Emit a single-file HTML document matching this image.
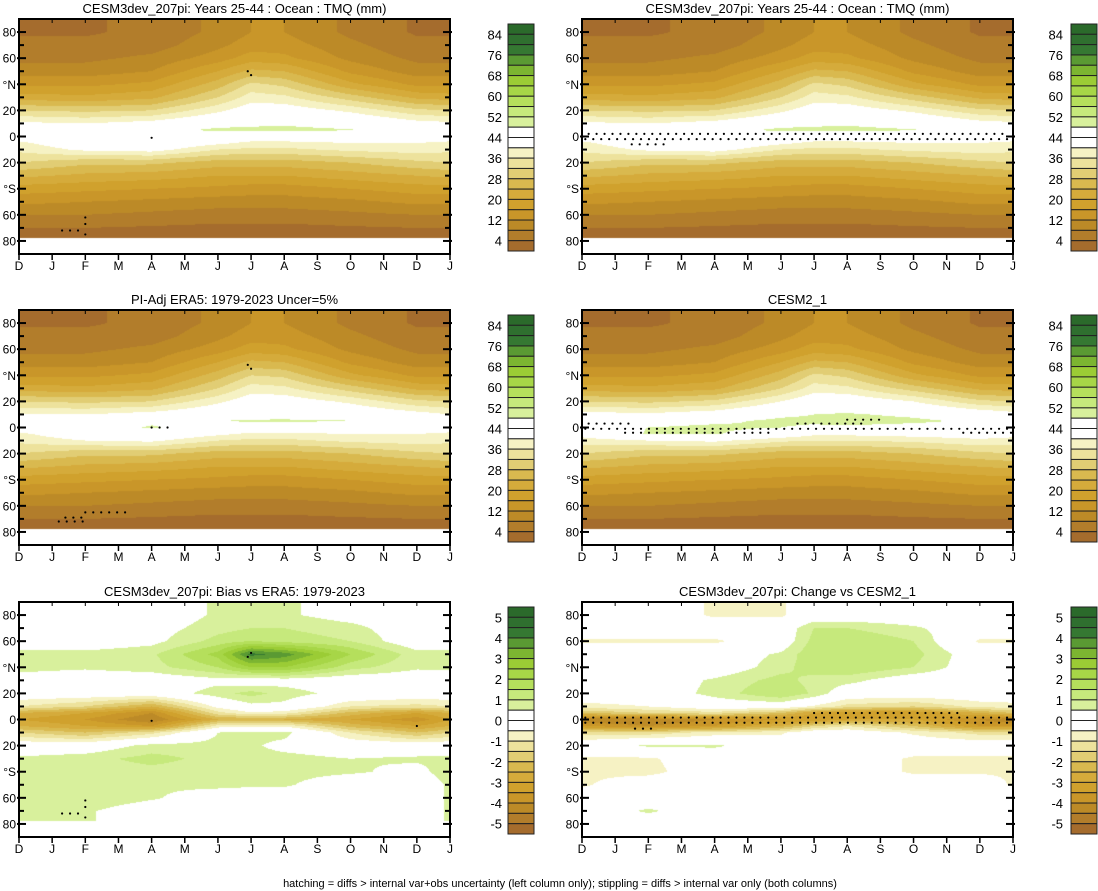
<!DOCTYPE html>
<html><head><meta charset="utf-8">
<style>
html,body{margin:0;padding:0;background:#fff;}
#wrap{position:relative;width:1098px;height:891px;overflow:hidden;font-family:"Liberation Sans",sans-serif;}
canvas{position:absolute;}
svg{position:absolute;left:0;top:0;}
</style></head>
<body>
<div id="wrap">
<svg id="svg" width="1098" height="891"></svg>
</div>
<script>
// ---- data ----
const lats=[80,70,60,50,40,30,20,10,5,0,-5,-10,-20,-30,-40,-50,-60,-70,-80];
const cols=[0,2,4,6,7,8,10,12,13];
const monthLabels=["D","J","F","M","A","M","J","J","A","S","O","N","D","J"];
const latTickLabels=["80","60","°N","20","0","20","°S","60","80"];
const latTickValues=[80,60,40,20,0,-20,-40,-60,-80];
const tmqLabels=["84","76","68","60","52","44","36","28","20","12","4"];
const biasLabels=["5","4","3","2","1","0","-1","-2","-3","-4","-5"];
const palette=["#2b6a2b","#2f6f2f","#357832","#5a9a33","#7cb531","#9bcc35","#a7d647","#b5df5c","#c6e97c","#d8f09c","#ffffff","#ffffff","#f6f2c4","#ede29c","#e1cd74","#d9b94f","#d5ab3b","#d0a12d","#c99629","#bc8a27","#b27d2b","#a56c2d"];

const cesm3Tmq=[
[3.5,3.5,5,9,12,12,7,3.5,3.5],
[5,5,6,11,14,14,9,5,5],
[7,7,9,14,18,17,11,7,7],
[10,10,12,20,25,24,15,10,10],
[15,15,17,26,33,31,21,15,15],
[22,21,23,32,38,37,30,23,22],
[32,31,32,39,43,43,39,33,32],
[41,40,42,46,47,47.5,46,42,41],
[44,44,46,49,49,49,48.3,45,44],
[43,45,46,44,43,43,43,43,43],
[39,44,45,41,39,39,40,40,39],
[37,41,42,36,35,35,37,38,37],
[32,29,29,26,26,26,28,31,32],
[25,23,22,20,20,20,22,24,25],
[18,17,16,15,14,14,16,18,18],
[13,12,11,10,10,10,11,13,13],
[8,8,7,6,6,6,7,8,8],
[4,4,3.5,3,3,3,3.5,4,4],
[3.5,3.5,3,2.5,2.5,2.5,3,3.5,3.5]];
const era5Tmq=[
[3.5,3.5,5,9,12,12,7,3.5,3.5],
[5,5,6,11,14,14,9,5,5],
[7,7,9,14,18,17,11,7,7],
[10,10,12,20,25,24,15,10,10],
[15,15,17,26,32,31,21,15,15],
[22,21,23,32,38,37,30,23,22],
[32,31,32,39,43,43,39,33,32],
[40,40,42,45,46,46.5,45,42,40],
[43,44,47,48,48.5,48.5,48.2,45,43],
[43,45,48.5,45,44,44,44,43,43],
[39,44,45,41,39,39,40,40,39],
[37,40,41,36,35,35,37,38,37],
[32,29,29,26,26,26,28,31,32],
[25,23,22,20,20,20,22,24,25],
[18,17,16,15,14,14,16,18,18],
[13,12,11,10,10,10,11,13,13],
[8,8,7,6,6,6,7,8,8],
[4,4,3.5,3,3,3,3.5,4,4],
[3.5,3.5,3,2.5,2.5,2.5,3,3.5,3.5]];
const cesm2Tmq=[
[3.5,3.5,5,9,12,12,7,3.5,3.5],
[5,5,6,11,14,14,9,5,5],
[7,7,9,14,18,17,11,7,7],
[10,10,12,20,25,24,15,10,10],
[15,15,17,26,33,31,21,15,15],
[22,21,23,32,38,37,30,23,22],
[32,31,33,40,44,44,40,33,32],
[42,41,43,47,48,48.5,47,44,42],
[45,46,47,49,49,50,49,47,45],
[46,48,49,48,47,47,46,46,46],
[42,48.5,48.5,44,41,41,42,43,42],
[38,40,41,37,36,36,37,39,38],
[32,29,29,26,26,26,28,31,32],
[25,23,22,20,20,20,22,24,25],
[18,17,16,15,14,14,16,18,18],
[13,12,11,10,10,10,11,13,13],
[8,8,7,6,6,6,7,8,8],
[4,4,3.5,3,3,3,3.5,4,4],
[3.5,3.5,3,2.5,2.5,2.5,3,3.5,3.5]];
const biasEra5=[
[0,0,0,0.6,0.8,0.6,0.2,0,0],
[0,0,0.2,0.8,1.0,1.0,0.7,0,0],
[0,0,0.3,1.2,1.5,1.3,1.0,0,0],
[0.7,0.7,0.9,2.2,4.2,3.8,2.0,0.7,0.7],
[0.7,0.6,0.8,1.5,2.5,2.5,1.2,0.6,0.6],
[0.2,0,0,0.3,0,0.2,0,0,0.2],
[0,0,0,0.8,1.2,0.8,0.2,0,0],
[-1.0,-1.5,-2.5,-0.3,0.3,0.3,-1.0,-1.2,-1.0],
[-2.5,-3.0,-4.0,-1.2,-0.6,-0.8,-2.2,-3.0,-2.5],
[-3.0,-3.5,-4.5,-2.5,-2.5,-2.5,-3.0,-3.8,-3.0],
[-2.5,-3,-3.5,-0.8,-0.6,-0.6,-2.2,-3.0,-2.5],
[-1.5,-2,-1.2,0.5,0.7,0.7,-1,-2,-1.5],
[0,0,0.7,0.7,0.6,0.3,0,0,0],
[0.6,0.8,1.2,0.8,0.7,0.7,0.5,0.6,0.6],
[0.8,0.7,0.8,0.7,0.7,0.7,0.6,0.3,0.8],
[0.6,0.7,0.6,0.7,0.6,0.6,0,0,0.6],
[0.6,1.0,0.6,0,0,0,0,0,0.6],
[0.6,0.6,0,0,0,0,0,0,0.6],
[0.6,0.6,0,0,0,0,0,0,0.6]];
const changeCesm2=[
[0,0,-0.6,-0.6,0,0,0,0,0],
[0,0,0,0,1.0,1.0,0.6,0,0],
[-0.6,-0.6,-0.6,0,1.2,1.5,1.0,-0.6,-0.6],
[0,0,0,0.6,1.4,1.5,1.2,0,0],
[0,0,0,0.8,1.3,1.5,1.0,0,0],
[0,0,0.6,1.2,0.8,0.7,0,0,0],
[0,0,0.7,1.5,0.9,0,0,0,0],
[-0.7,-0.5,0,0,-0.6,-1.2,-1.5,-0.8,-0.7],
[-2,-1.5,-1.2,-2,-3,-3.5,-3.5,-2.5,-2],
[-4.5,-4.5,-4,-3.5,-3.5,-3,-3,-4,-4.5],
[-3.5,-4,-3.5,-2.5,-1.5,-1,-2,-3.5,-3.5],
[-1.2,-1.3,-0.8,-0.6,0,0,-0.6,-1.2,-1.2],
[0,0.6,0.6,0,0,0,0,0,0],
[-0.6,-0.6,0,0,0,0,-0.6,-0.6,-0.6],
[-0.6,-0.7,0,0,0,0,-0.6,-0.6,-0.6],
[-0.6,0,0,0,0,0,0,0,-0.6],
[0,0,0,0,0,0,0,0,0],
[0,0.6,0,0,0,0,0,0,0],
[0,0,0,0,0,0,0,0,0]];
// stipple segments: [monthStart, monthEnd, lat]
const stipP1=[[1.3,2.0,-72],[2.0,2.0,-62],[2.0,2.0,-67],[2.0,2.0,-75],[6.9,6.9,50],[7.0,7.0,47],[4.0,4.0,-1]];
const stipP2=[[1.2,2.0,-72],[1.4,2.0,-69],[2.0,3.2,-65],[6.9,6.9,48],[7.0,7.0,45],[4.0,4.7,0]];
const stipP3=[[0.2,12.8,2],[0.1,12.9,-2],[1.5,2.5,-6]];
const stipP4=[[0.2,1.5,3],[0.1,13,-1],[1.3,5.8,-4],[11.5,13,-4],[6.5,8.5,3],[8,9,6]];
const stipP5=[[1.3,2.0,-72],[2.0,2.0,-62],[2.0,2.0,-67],[2.0,2.0,-75],[6.9,6.9,48],[7.0,7.0,51],[4.0,4.0,-1],[12,12,-5]];
const stipP6=[[0.1,12.9,1.5],[0.1,12.9,-2.5],[1.6,2.2,-7],[7,11.5,5]];

const panels=[
 {name:"cesm3-tmq-left",title:"CESM3dev_207pi: Years 25-44 : Ocean : TMQ (mm)",L:19,T:19,grid:cesm3Tmq,bias:false,stip:stipP1,cbx:508,lblx:502},
 {name:"cesm3-tmq-right",title:"CESM3dev_207pi: Years 25-44 : Ocean : TMQ (mm)",L:582,T:19,grid:cesm3Tmq,bias:false,stip:stipP3,cbx:1071,lblx:1063},
 {name:"era5-tmq",title:"PI-Adj ERA5: 1979-2023 Uncer=5%",L:19,T:310,grid:era5Tmq,bias:false,stip:stipP2,cbx:508,lblx:502},
 {name:"cesm2-tmq",title:"CESM2_1",L:582,T:310,grid:cesm2Tmq,bias:false,stip:stipP4,cbx:1071,lblx:1063},
 {name:"bias-vs-era5",title:"CESM3dev_207pi: Bias vs ERA5: 1979-2023",L:19,T:602,grid:biasEra5,bias:true,stip:stipP5,cbx:508,lblx:502},
 {name:"change-vs-cesm2",title:"CESM3dev_207pi: Change vs CESM2_1",L:582,T:602,grid:changeCesm2,bias:true,stip:stipP6,cbx:1071,lblx:1063}
];
const W=431,H=235;
const NS="http://www.w3.org/2000/svg";
const svg=document.getElementById('svg');
const wrap=document.getElementById('wrap');
function mk(tag,attrs,parent){const e=document.createElementNS(NS,tag);for(const k in attrs)e.setAttribute(k,attrs[k]);(parent||svg).appendChild(e);return e;}
function interp(grid,m,lat){
  if(lat>80)lat=80;
  let i=0;while(i<lats.length-2&&lat<lats[i+1])i++;
  let j=0;while(j<cols.length-2&&m>cols[j+1])j++;
  const ty=(lats[i]-lat)/(lats[i]-lats[i+1]);
  const tx=Math.min(1,Math.max(0,(m-cols[j])/(cols[j+1]-cols[j])));
  const a=grid[i][j],b=grid[i][j+1],c=grid[i+1][j],d=grid[i+1][j+1];
  return (a*(1-tx)+b*tx)*(1-ty)+(c*(1-tx)+d*tx)*ty;
}
function boxIndex(v,bias){
  let k=bias?10-Math.floor(v/0.5):21-Math.floor(v/4);
  return Math.max(0,Math.min(21,k));
}
function hex(c){return [parseInt(c.slice(1,3),16),parseInt(c.slice(3,5),16),parseInt(c.slice(5,7),16)];}
const palRGB=palette.map(hex);

panels.forEach(p=>{
  const xs=m=>p.L+m*W/13, ys=lat=>p.T+(90-lat)*H/180;
  const cv=document.createElement('canvas');
  cv.width=W;cv.height=H;cv.style.left=p.L+'px';cv.style.top=p.T+'px';
  
  
  wrap.insertBefore(cv,svg);
  const ctx=cv.getContext('2d');const img=ctx.createImageData(W,H);
  for(let py=0;py<H;py++){
    const lat=90-(py+0.5)*180/H;
    for(let px=0;px<W;px++){
      const o=(py*W+px)*4;
      let rgb=[255,255,255];
      if(lat>=-77.5){
        const m=(px+0.5)*13/W;
        rgb=palRGB[boxIndex(interp(p.grid,m,lat),p.bias)];
      }
      img.data[o]=rgb[0];img.data[o+1]=rgb[1];img.data[o+2]=rgb[2];img.data[o+3]=255;
    }
  }
  ctx.putImageData(img,0,0);
  const g=mk('g',{});
  
  
  p.stip.forEach(s=>{
    for(let m=s[0];m<=s[1]+1e-6;m+=0.24){
      const d=mk('circle',{cx:xs(m),cy:ys(s[2]),r:1.1,fill:'#000'},g);
      
      
    }
  });
  const fr=mk('rect',{x:p.L,y:p.T,width:W,height:H,fill:'none',stroke:'#000','stroke-width':2},g);
  
  
  for(let lat=-80;lat<=80;lat+=10){
    const y=ys(lat), major=lat%20===0;
    const a=major?7:5;
    mk('line',{x1:p.L-(major?2:0),x2:p.L+a,y1:y,y2:y,stroke:'#000','stroke-width':2},g);
    mk('line',{x1:p.L+W+(major?2:0),x2:p.L+W-a,y1:y,y2:y,stroke:'#000','stroke-width':2},g);
  }
  latTickLabels.forEach((t,i)=>{
    const e=mk('text',{x:p.L-3,y:ys(latTickValues[i])+4.5,'text-anchor':'end','font-size':12,fill:'#000'},g);
    e.textContent=t;
    
    
  });
  monthLabels.forEach((t,i)=>{
    const x=xs(i);
    mk('line',{x1:x,x2:x,y1:p.T+H,y2:p.T+H+6,stroke:'#000','stroke-width':1.5},g);
    mk('line',{x1:x,x2:x,y1:p.T,y2:p.T+4,stroke:'#000','stroke-width':1},g);
    const e=mk('text',{x:x,y:p.T+H+16,'text-anchor':'middle','font-size':12,fill:'#000'},g);
    e.textContent=t;
    
    
  });
  const tt=mk('text',{x:p.L+W/2,y:p.T-6,'text-anchor':'middle','font-size':13,fill:'#000'},g);
  tt.textContent=p.title;
  
  
  const cbT=p.T+5,cbH=227,bh=cbH/22;
  const cb=mk('g',{},g);
  
  
  palette.forEach((c,i)=>{
    const r=mk('rect',{x:p.cbx,y:cbT+i*bh,width:26,height:bh,fill:c,stroke:'#222','stroke-width':1},cb);
    
    
  });
  (p.bias?biasLabels:tmqLabels).forEach((t,i)=>{
    const e=mk('text',{x:p.lblx,y:cbT+(1+2*i)*bh+5,'text-anchor':'end','font-size':13,fill:'#000'},cb);
    e.textContent=t;
    
    
  });
});
const cap=mk('text',{x:560,y:887,'text-anchor':'middle','font-size':11,fill:'#000'});
cap.textContent="hatching = diffs > internal var+obs uncertainty (left column only); stippling = diffs > internal var only (both columns)";


</script>
</body></html>
